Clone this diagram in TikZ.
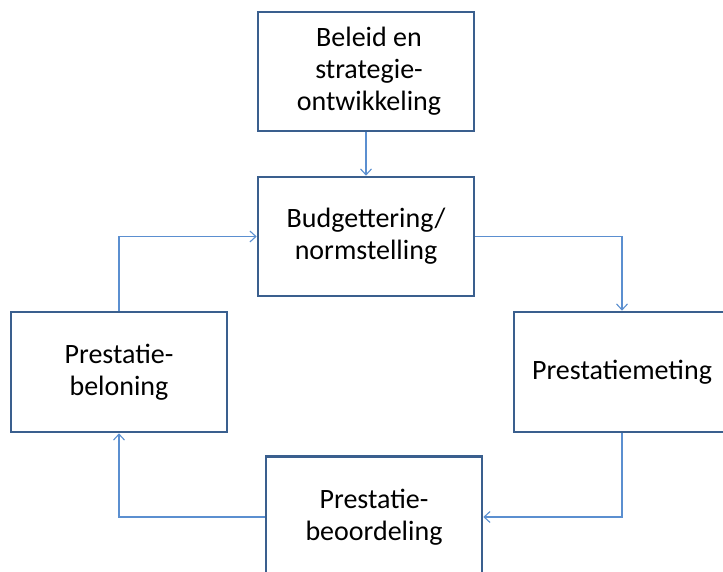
\documentclass[tikz,border=0pt]{standalone}
\usepackage{fontspec}
\setmainfont{Carlito}
\usetikzlibrary{arrows.meta}
\definecolor{boxline}{HTML}{3A5F8E}
\definecolor{conn}{HTML}{5B8FD0}
\tikzset{
  box/.style={draw=boxline, line width=2.6pt, fill=white, minimum width=216pt, minimum height=119pt, align=center, inner sep=2pt, font=\fontsize{28}{32}\selectfont, text=black},
  conn/.style={draw=conn, line width=1.2pt, -{Straight Barb[length=6pt,width=11pt,line width=1.1pt]}}
}
\begin{document}
\begin{tikzpicture}[x=1pt,y=-1pt]
\useasboundingbox (0,0) rectangle (723,572);
\begin{scope}
\clip (0,0) rectangle (723,572);
\node[box] (top) at (366,71.5) {\hspace*{6pt}Beleid en\\\hspace*{6pt}strategie-\\\hspace*{6pt}ontwikkeling};
\node[box] (bud) at (366,236.5) {Budgettering/\\normstelling};
\node[box, minimum height=120pt] (left) at (119,372) {Prestatie-\\beloning};
\node[box, minimum height=120pt] (right) at (622,372) {Prestatiemeting};
\node[box, minimum height=121pt] (bot) at (374,517) {Prestatie-\\beoordeling};
\draw[conn] (top.south) -- (bud.north);
\draw[conn] (bud.east) -| (right.north);
\draw[conn] (right.south) |- (bot.east);
\draw[conn] (bot.west) -| (left.south);
\draw[conn] (left.north) |- (bud.west);
\end{scope}
\end{tikzpicture}
\end{document}
